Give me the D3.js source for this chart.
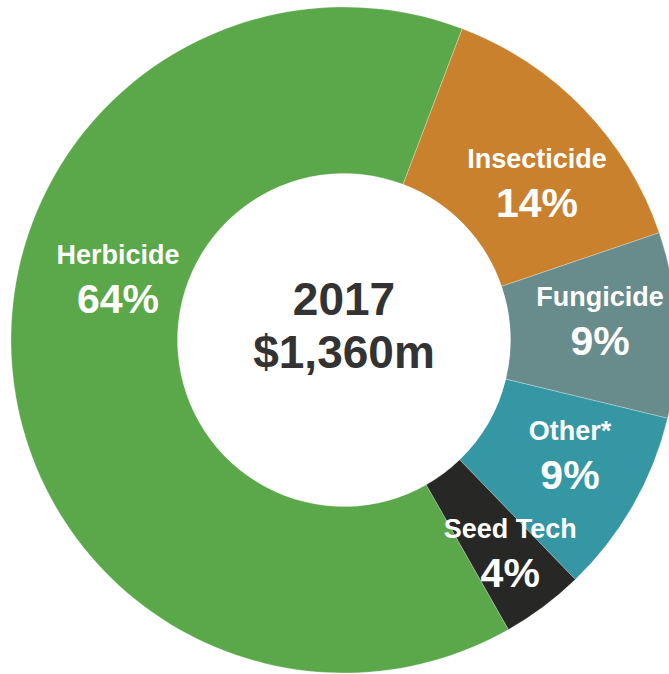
<!DOCTYPE html>
<html>
<head>
<meta charset="utf-8">
<script src="https://cdn.jsdelivr.net/npm/d3@7"></script>
<style>
  html, body { margin: 0; padding: 0; background: #fff; }
  svg { display: block; }
</style>
</head>
<body>
<svg id="chart" width="669" height="674"></svg>
<script>
// Segment shares of 2017 sales
const categories = ["Herbicide", "Insecticide", "Fungicide", "Other*", "Seed Tech"];
const shares = [64, 14, 9, 9, 4];
const colors = ["#5ba84a", "#c9812e", "#688c8c", "#3497a3", "#272725"];
const centerLines = ["2017", "$1,360m"];

// Label placement in polar terms (degrees clockwise from 12 o'clock, radius px)
const labelAngles = [285, 50.8, 85.8, 117, 142];
const labelRadii = [234, 249, 256.7, 253.6, 270];

const width = 669, height = 674;
const cx = 344, cy = 340;
const outerR = 333, innerR = 166.5;
const startDeg = 150.4;

const svg = d3.select("#chart");
const g = svg.append("g").attr("transform", `translate(${cx},${cy})`);

const rad = d => d * Math.PI / 180;

const pie = d3.pie()
  .sort(null)
  .value(d => d.value)
  .startAngle(rad(startDeg))
  .endAngle(rad(startDeg) + 2 * Math.PI);

const data = categories.map((c, i) => ({ name: c, value: shares[i], color: colors[i], i }));
const arcs = pie(data);

const arc = d3.arc().innerRadius(innerR).outerRadius(outerR);

g.selectAll("path.slice")
  .data(arcs)
  .join("path")
  .attr("class", "slice")
  .attr("d", arc)
  .attr("fill", d => d.data.color)
  .attr("stroke", "rgba(255,255,255,0.45)")
  .attr("stroke-width", 0.6);

// Slice labels: name over percentage
const labels = g.selectAll("g.label")
  .data(arcs)
  .join("g")
  .attr("class", "label")
  .attr("transform", d => {
    const a = rad(labelAngles[d.data.i]);
    const r = labelRadii[d.data.i];
    return `translate(${r * Math.sin(a)},${-r * Math.cos(a)})`;
  });

labels.append("text")
  .attr("text-anchor", "middle")
  .attr("y", -15)
  .attr("font-family", "'Liberation Sans', Arial, sans-serif")
  .attr("font-weight", "bold")
  .attr("font-size", 27)
  .attr("fill", "#fff")
  .text(d => d.data.name);

labels.append("text")
  .attr("text-anchor", "middle")
  .attr("y", 34)
  .attr("font-family", "'Liberation Sans', Arial, sans-serif")
  .attr("font-weight", "bold")
  .attr("font-size", 41)
  .attr("fill", "#fff")
  .text(d => d3.format("d")(d.data.value) + "%");

// Centre caption
g.selectAll("text.center")
  .data(centerLines)
  .join("text")
  .attr("class", "center")
  .attr("text-anchor", "middle")
  .attr("x", 0)
  .attr("y", (d, i) => i === 0 ? -25 : 28)
  .attr("font-family", "'Liberation Sans', Arial, sans-serif")
  .attr("font-weight", "bold")
  .attr("font-size", 46)
  .attr("fill", "#333333")
  .text(d => d);
</script>
</body>
</html>
